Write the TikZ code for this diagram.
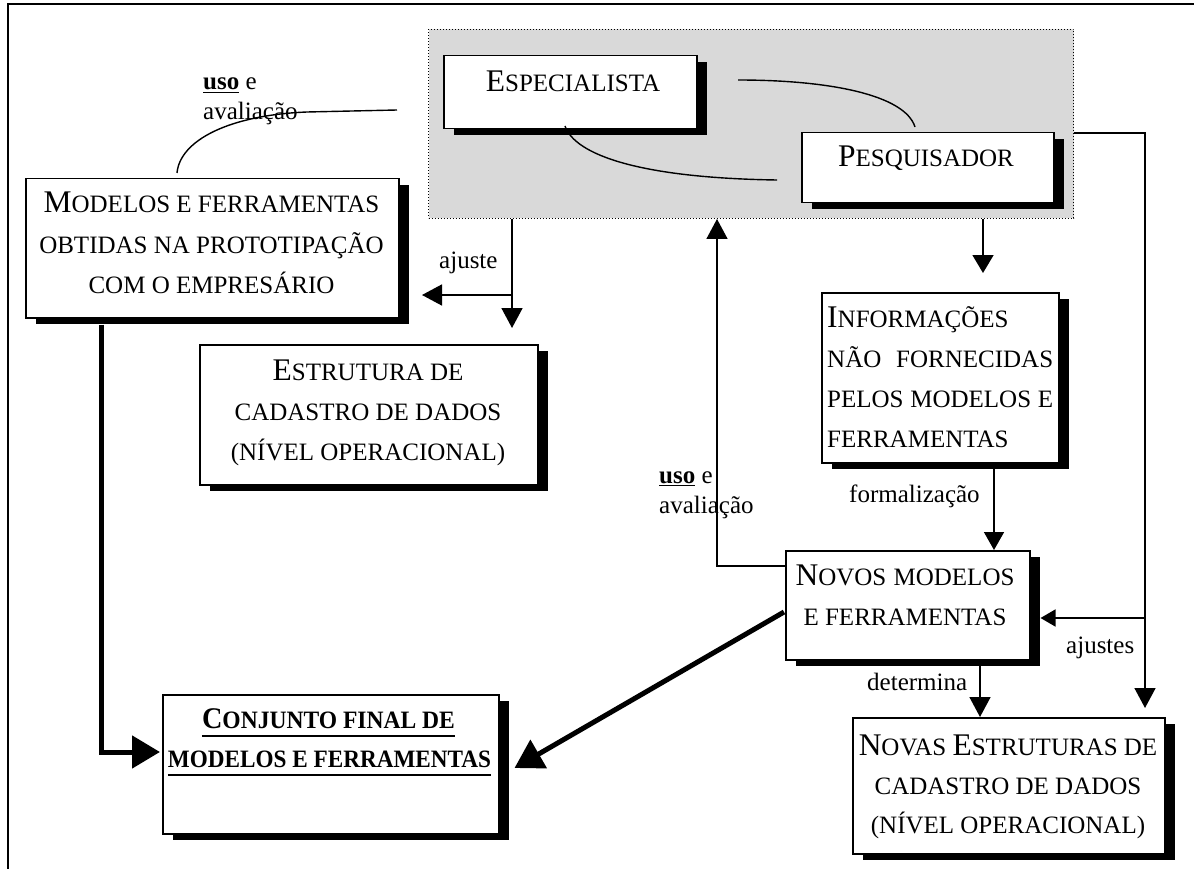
\documentclass[tikz,border=0pt]{standalone}
\usepackage{fontspec}
\usepackage{graphicx}
\setmainfont{Liberation Serif}
\usetikzlibrary{arrows.meta,shadows,calc}
% small-caps imitation: full-size initial, reduced capitals
\newcommand\capF{\fontsize{31.5}{40}\selectfont}
\newcommand\scF{\fontsize{25}{40}\selectfont}
\newcommand\sw[2]{{\capF #1}{\scF #2}}
\newcommand\bcapF{\fontsize{30}{40}\selectfont\bfseries}
\newcommand\bscF{\fontsize{25}{40}\selectfont\bfseries}
\definecolor{grpgray}{RGB}{217,217,217}

\begin{document}
\begin{tikzpicture}[x=1pt,y=-1pt,
  box/.style={draw, line width=1.5pt, fill=white, inner sep=0pt, anchor=north west,
    general shadow={fill=black, shadow xshift=10pt, shadow yshift=-6.5pt}},
  grpbox/.style={draw, dotted, line width=1pt, fill=grpgray, inner sep=0pt, anchor=north west},
  txt/.style={anchor=base, inner sep=0pt, font=\scF},
  lbl/.style={anchor=base west, inner sep=0pt, font=\fontsize{25}{30}\selectfont},
  conn/.style={line width=1.6pt},
  link/.style={line width=1.4pt},
  arr/.style={conn, -{Triangle[length=20pt,width=21pt]}},
  heavy/.style={line width=5pt, -{Triangle[length=28pt,width=32pt]}},
]
\useasboundingbox (0,0) rectangle (1194,869);

% frame
\draw[line width=2pt] (8,869) -- (8,4) -- (1194,4);

% shaded group of the two actors
\node[grpbox, minimum width=645pt, minimum height=189pt] (grp) at (428,29) {};

% boxes
\node[box, minimum width=253pt, minimum height=73pt]  (esp) at (443,55) {};
\node[box, minimum width=252pt, minimum height=70pt]  (pes) at (801,132) {};
\node[box, minimum width=373pt, minimum height=139pt] (mod) at (25,178) {};
\node[box, minimum width=338pt, minimum height=140pt] (est) at (199,344) {};
\node[box, minimum width=237pt, minimum height=170pt] (inf) at (821,292) {};
\node[box, minimum width=244pt, minimum height=109pt] (nov) at (785,550) {};
\node[box, minimum width=336pt, minimum height=139pt] (con) at (162,694) {};
\node[box, minimum width=312pt, minimum height=136pt] (nvs) at (852,717) {};

% box texts
\node[txt] (espT) at (573,92) {\sw{E}{SPECIALISTA}};
\node[txt] (pesT) at (926,167) {\sw{P}{ESQUISADOR}};
\node[txt] (modT1) at (211.5,213) {\sw{M}{ODELOS} E FERRAMENTAS};
\node[txt] (modT2) at (211.5,254) {OBTIDAS NA PROTOTIPAÇÃO};
\node[txt] (modT3) at (211.5,293) {COM O EMPRESÁRIO};
\node[txt] (estT1) at (368,380) {\sw{E}{STRUTURA} DE};
\node[txt] (estT2) at (368,420) {CADASTRO DE DADOS};
\node[txt] (estT3) at (368,460) {(NÍVEL OPERACIONAL)};
\node[txt, anchor=base west] (infT1) at (827,327) {\sw{I}{NFORMAÇÕES}};
\node[txt, anchor=base west] (infT2) at (827,367) {\makebox[226pt][s]{NÃO FORNECIDAS}};
\node[txt, anchor=base west] (infT3) at (827,407) {\makebox[226pt][s]{PELOS MODELOS E}};
\node[txt, anchor=base west] (infT4) at (827,447) {FERRAMENTAS};
\node[txt] (novT1) at (905,585) {\makebox[219pt][s]{\sw{N}{OVOS} MODELOS}};
\node[txt] (novT2) at (905,625) {E FERRAMENTAS};
\node[txt] (nvsT1) at (1008,755) {\sw{N}{OVAS} \sw{E}{STRUTURAS} DE};
\node[txt] (nvsT2) at (1008,794) {CADASTRO DE DADOS};
\node[txt] (nvsT3) at (1008,833) {(NÍVEL OPERACIONAL)};
\node[txt, font=\bscF] (conT1) at (328.5,728) {\resizebox{253pt}{\height}{{\bcapF C}ONJUNTO FINAL DE}};
\node[txt, font=\bscF] (conT2) at (329.5,767) {\resizebox{323pt}{\height}{MODELOS E FERRAMENTAS}};
\draw[line width=2.6pt] ($(conT1.base west)+(0,8)$) -- ($(conT1.base east)+(0,8)$);
\draw[line width=2.6pt] ($(conT2.base west)+(0,8)$) -- ($(conT2.base east)+(0,8)$);

% connector labels
\node[lbl] (l1a) at (203,90)  {\textbf{\underline{uso}} e};
\node[lbl] (l1b) at (203,120) {avaliação};
\node[lbl] (l2)  at (439,268) {ajuste};
\node[lbl] (l3a) at (659,483) {\textbf{\underline{uso}} e};
\node[lbl] (l3b) at (659,513) {avaliação};
\node[lbl] (l4)  at (849,502) {formalização};
\node[lbl] (l5)  at (1066,653) {ajustes};
\node[lbl] (l6)  at (867,690) {determina};

% free ends of connectors
\coordinate (k1a) at (738,80);
\coordinate (k1b) at (915,127);
\coordinate (k2a) at (565,126);
\coordinate (k2b) at (777,180);
\coordinate (k3a) at (397,110);
\coordinate (k3m) at (307,112);
\coordinate (k3b) at (177,173);
\coordinate (tEst) at (512,328);
\coordinate (jAj) at (512,295);
\coordinate (tMod) at (422,295);
\coordinate (tInf) at (983,273);
\coordinate (tNvs) at (1145,708);
\coordinate (jRt) at (1145,618);

% links between actors and with the prototype models
\draw[link] (k1a) .. controls (830,80) and (905,95) .. (k1b);
\draw[link] (k2a) .. controls (575,155) and (640,178) .. (k2b);
\draw[link] (k3a) -- (k3m) .. controls (230,115) and (180,140) .. (k3b);

% arrows
\draw[arr] ($(grp.south west)+(84,0)$) -- (tEst);
\draw[arr] (jAj) -- (tMod);
\draw[arr, -{Triangle[length=18pt,width=21pt]}] ($(grp.south west)+(555,0)$) -- (tInf);
\draw[arr] ($(nov.north west)+(0,16)$) -| ($(grp.south west)+(289,0)$);
\draw[arr, -{Triangle[length=18pt,width=20pt]}] ($(inf.south west)+(173,0)$) -- ($(nov.north west)+(209,0)$);
\draw[arr] ($(grp.north east)+(0,104)$) -| (tNvs);
\draw[conn, -{Triangle[length=15pt,width=17pt]}] (jRt) -- ($(nov.north east)+(10,68)$);
\draw[arr] ($(nov.south west)+(195,5)$) -- ($(nvs.north west)+(128,0)$);
\draw[heavy] ($(mod.south west)+(76,6)$) |- ($(con.north west)+(-2,58)$);
\draw[heavy] ($(nov.north west)+(-1,62)$) -- ($(con.north east)+(15,74)$);
\end{tikzpicture}
\end{document}
